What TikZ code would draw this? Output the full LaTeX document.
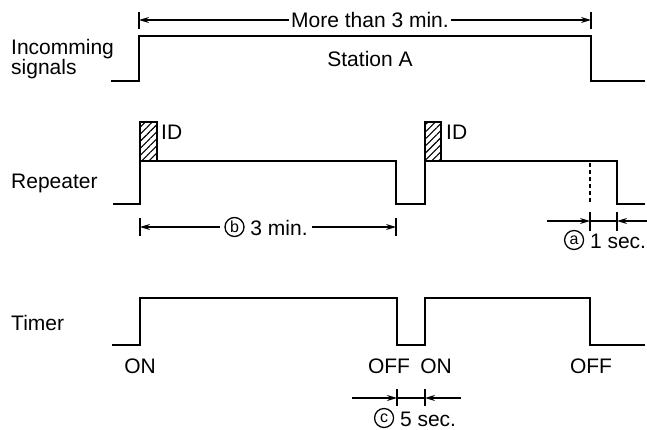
\documentclass[tikz,border=0pt]{standalone}
\usepackage{fontspec}
\setmainfont{Liberation Sans}
\usepackage{tikz}
\usetikzlibrary{arrows.meta,calc,positioning,patterns.meta}

% circled letter
\newcommand\circlet[1]{\tikz[baseline={([yshift=1.5pt]cl.south)}]\node[draw, circle, line width=1.3pt,
  inner sep=0pt, minimum size=19pt, font=\fontsize{16}{16}\selectfont] (cl) {#1};}

\begin{document}
\begin{tikzpicture}[
  x=1pt, y=-1pt,
  wave/.style={line width=1.8pt, line join=miter},
  dim/.style={->, >={Stealth[length=10pt,width=6pt]}, line width=1.3pt},
  tick/.style={line width=1.3pt},
  lbl/.style={font=\fontsize{21}{23}\selectfont, inner sep=0pt},
  row/.style={lbl, anchor=west, align=left},
  idbox/.style={line width=1.4pt, pattern={Lines[angle=45,distance=5pt,line width=1.1pt]}},
]
\useasboundingbox (0,0) rectangle (647,430);

% Incoming signals
\node[row] (inc) at (11,59) {Incomming\\[-3pt]signals};
\draw[wave] (111,81) -- (139,81) -- (139,36) -- (591,36) -- (591,81) -- (645,81);
\node[lbl] (sta) at (370,59) {Station A};
\coordinate (tl) at (139,20);
\coordinate (tr) at (591,20);
\draw[tick] (139,12) -- (139,29);
\draw[tick] (591,12) -- (591,29);
\node[lbl, fill=white, inner sep=2pt] (more) at (370,20) {More than 3 min.};
\draw[dim] (more) -- (tl);
\draw[dim] (more) -- (tr);

% Repeater
\node[row] (rep) at (11,183) {Repeater};
\draw[wave] (113,204) -- (140,204) -- (140,161) -- (396,161) -- (396,204)
  -- (425,204) -- (425,161) -- (617,161) -- (617,204) -- (645,204);
\draw[idbox] (140,161) rectangle (157,122);
\draw[idbox] (425,161) rectangle (441,122);
\node[lbl, anchor=west] (id1) at (161,132) {ID};
\node[lbl, anchor=west] (id2) at (446,132) {ID};
\draw[wave, line width=2pt, dash pattern=on 4pt off 3pt] (590,163) -- (590,204);

% b: 3 min.
\coordinate (bl) at (140,227);
\coordinate (br) at (396,227);
\draw[tick] (140,218) -- (140,236);
\draw[tick] (396,218) -- (396,236);
\node[lbl, inner sep=4pt] (bmin) at (266,227) {\circlet{b} 3 min.};
\draw[dim] (bmin) -- (bl);
\draw[dim] (bmin) -- (br);

% a: 1 sec.
\coordinate (al) at (590,221);
\coordinate (ar) at (617,221);
\coordinate (aol) at (547,221);
\coordinate (aor) at (647,221);
\draw[tick] (590,212) -- (590,231);
\draw[tick] (617,212) -- (617,231);
\draw[tick] (al) -- (ar);
\draw[dim] (aol) -- (al);
\draw[dim] (aor) -- (ar);
\node[lbl] (asec) at (605,240) {\circlet{a} 1 sec.};

% Timer
\node[row] (tim) at (11,323) {Timer};
\draw[wave] (112,345) -- (140,345) -- (140,298) -- (397,298) -- (397,345)
  -- (425,345) -- (425,298) -- (590,298) -- (590,345) -- (645,345);
\node[lbl] (on1) at (140,366) {ON};
\node[lbl] (off1) at (389,366) {OFF};
\node[lbl] (on2) at (436,366) {ON};
\node[lbl] (off2) at (591,366) {OFF};

% c: 5 sec.
\coordinate (cl) at (397,398);
\coordinate (cr) at (425,398);
\coordinate (col) at (352,398);
\coordinate (cor) at (461,398);
\draw[tick] (397,389) -- (397,406);
\draw[tick] (425,389) -- (425,406);
\draw[tick] (cl) -- (cr);
\draw[dim] (col) -- (cl);
\draw[dim] (cor) -- (cr);
\node[lbl] (csec) at (415,418) {\circlet{c} 5 sec.};
\end{tikzpicture}
\end{document}
